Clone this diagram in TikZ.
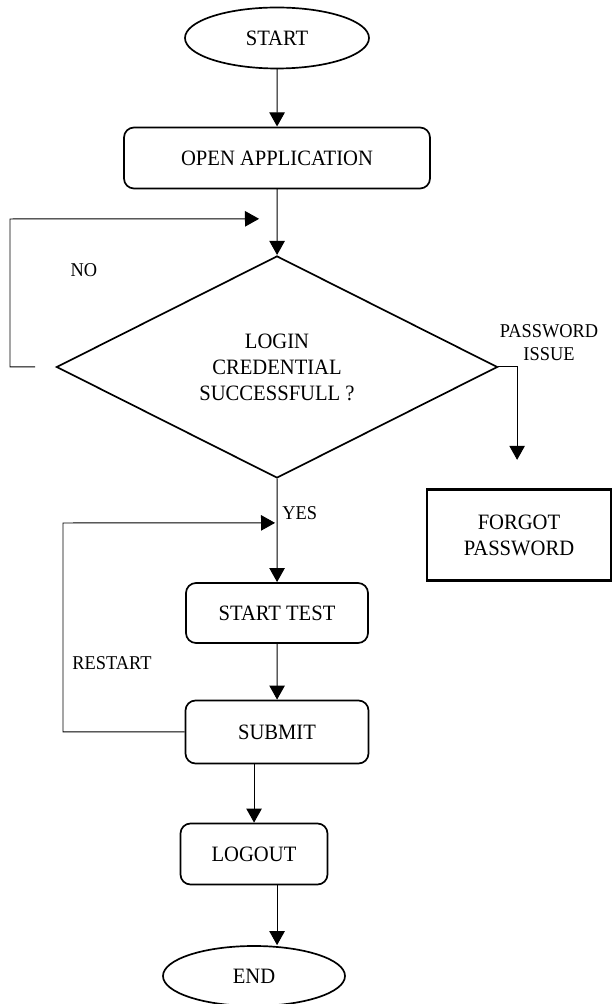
\documentclass[tikz,border=0pt]{standalone}
\usepackage{fontspec}
\setmainfont{Liberation Serif}[FakeStretch=0.94]
\usetikzlibrary{shapes.geometric,arrows.meta}

\newcommand{\flowfont}{\fontsize{15.6}{18.5}\selectfont}
\newcommand{\notefont}{\fontsize{13.9}{16.4}\selectfont}

\tikzset{
	terminal/.style={draw, ellipse, line width=1.2pt, minimum width=4.6cm, minimum height=1.525cm, inner sep=0pt, font=\flowfont},
	process/.style={draw, rectangle, rounded corners=0.25cm, line width=1.2pt, minimum height=1.525cm, inner sep=0pt, font=\flowfont},
	decision/.style={draw, diamond, line width=1.2pt, minimum width=11.025cm, minimum height=5.175cm, inner sep=0pt, align=center, font=\flowfont},
	plainbox/.style={draw, rectangle, line width=1.8pt, minimum width=4.6cm, minimum height=2.275cm, inner sep=0pt, align=center, font=\flowfont},
	note/.style={inner sep=0pt, align=center, font=\notefont},
	arrow/.style={line width=0.7pt, -{Triangle[width=11pt,length=10pt]}}
}

\begin{document}
\begin{tikzpicture}[scale=2.5]
		\useasboundingbox ( 0.00, 0.00 ) rectangle ( 6.13, 10.04 );

		% блоки
		\node [terminal] (start) at ( 2.77, 9.66 ) {START};
		\node [process, minimum width=7.65cm] (openapp) at ( 2.77, 8.46 ) {OPEN APPLICATION};
		\node [decision] (login) at ( 2.77, 6.37 ) {LOGIN\\CREDENTIAL\\SUCCESSFULL ?};
		\node [plainbox] (forgot) at ( 5.19, 4.69 ) {FORGOT\\PASSWORD};
		\node [process, minimum width=4.55cm, minimum height=1.5cm] (starttest) at ( 2.77, 3.91 ) {START TEST};
		\node [process, minimum width=4.575cm, minimum height=1.575cm] (submit) at ( 2.77, 2.72 ) {SUBMIT};
		\node [process, minimum width=3.675cm] (logout) at ( 2.54, 1.50 ) {LOGOUT};
		\node [terminal, minimum width=4.55cm, minimum height=1.5cm] (stop) at ( 2.54, 0.28 ) {END};

		% подписи
		\node [note] (no) at ( 0.84, 7.34 ) {NO};
		\node [note] (issue) at ( 5.49, 6.61 ) {PASSWORD\\ISSUE};
		\node [note, anchor=west] (yes) at ( 2.82, 4.91 ) {YES};
		\node [note] (restart) at ( 1.12, 3.41 ) {RESTART};

		% свободные концы
		\coordinate (noout) at ( 0.35, 6.37 );
		\coordinate (noin) at ( 2.59, 7.85 );
		\coordinate (forgotin) at ( 5.17, 5.44 );
		\coordinate (restartin) at ( 2.75, 4.81 );

		% стрелки
		\draw [arrow] (start) -- (openapp);
		\draw [arrow] (openapp) -- (login);
		\draw [arrow] (noout) -| ( 0.10, 7.85 ) -- (noin);
		\draw [arrow] (login.east) -| (forgotin);
		\draw [arrow] (login) -- (starttest);
		\draw [arrow] (starttest) -- (submit);
		\draw [arrow] (submit.west) -| ( 0.63, 4.81 ) -- (restartin);
		\draw [arrow] (submit.south -| logout.north) -- (logout.north);
		\draw [arrow] (logout.south -| submit.south) -- (stop.north -| submit.south);
	\end{tikzpicture}
\end{document}
